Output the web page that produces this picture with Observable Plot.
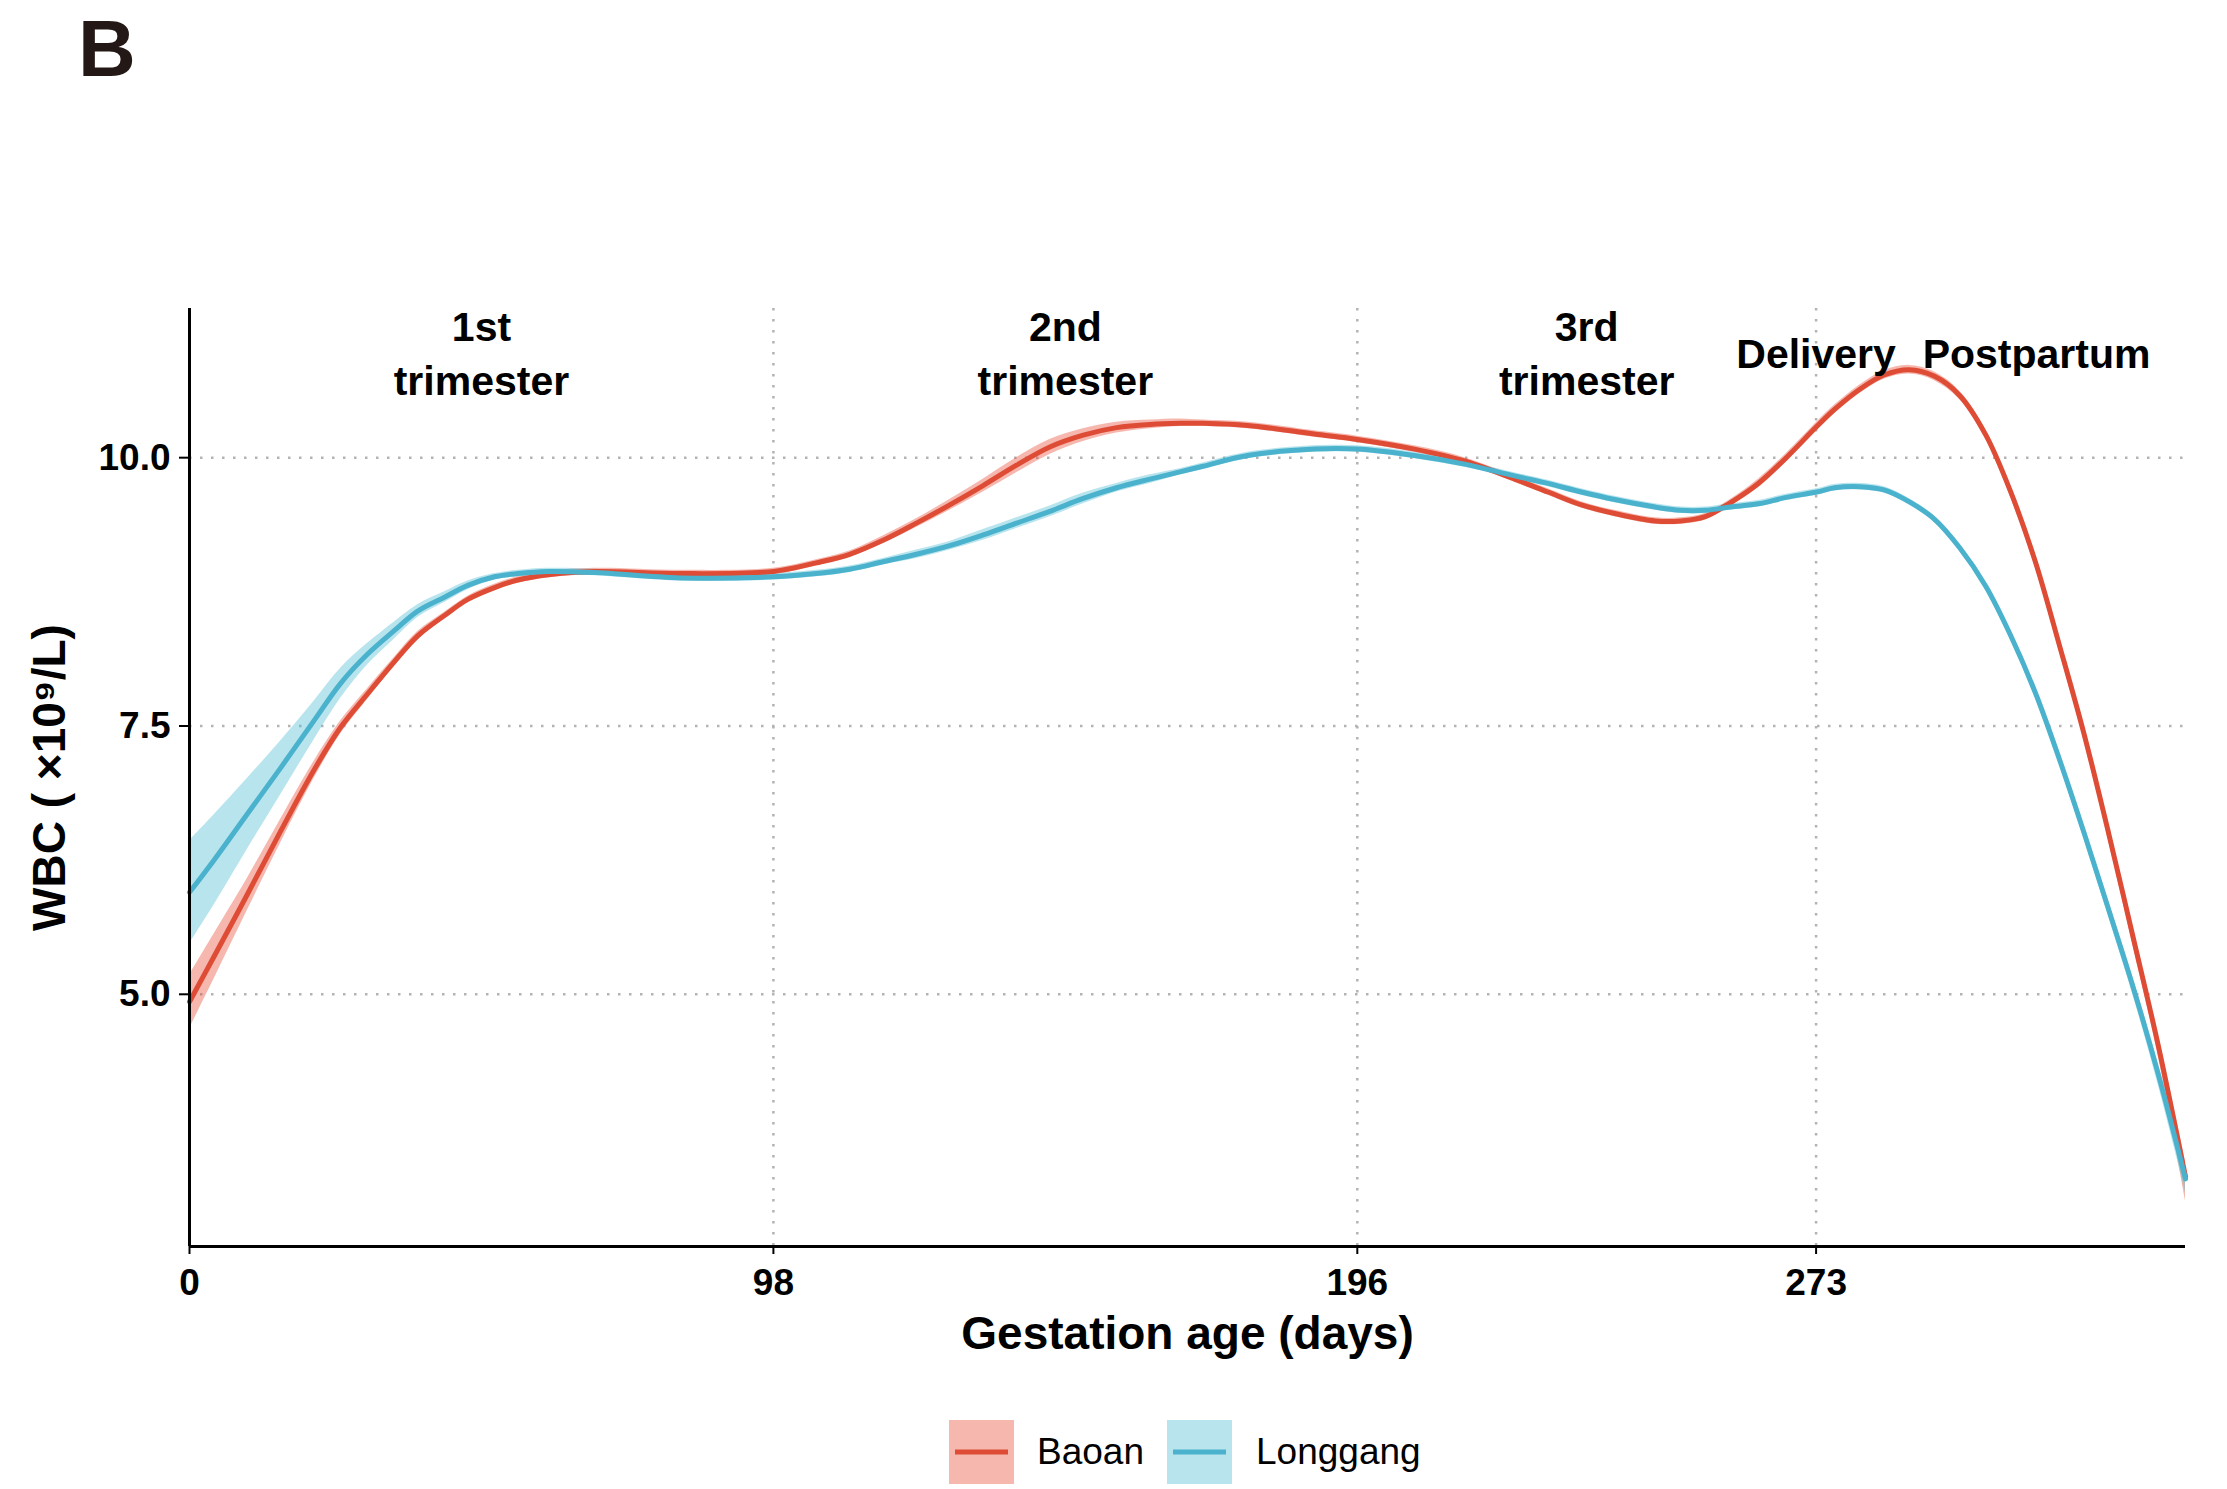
<!DOCTYPE html>
<html>
<head>
<meta charset="utf-8">
<script src="https://cdn.jsdelivr.net/npm/d3@7"></script>
<script src="https://cdn.jsdelivr.net/npm/@observablehq/plot@0.6"></script>
<style>
  html, body { margin: 0; padding: 0; background: white; }
  body { width: 2227px; height: 1489px; position: relative; overflow: hidden; font-family: "Liberation Sans", Arial, Helvetica, sans-serif; }
  #panel { position: absolute; left: 78px; top: 9px; font-weight: bold; font-size: 80px; line-height: 80px; color: #231815; z-index: 5; }
  #chart { position: absolute; left: 0; top: 0; z-index: 1; }
  .key { position: absolute; top: 1420px; width: 65px; height: 64px; z-index: 5; }
  .lab { position: absolute; top: 1420px; height: 64px; line-height: 64px; font-size: 37px; color: black; z-index: 5; }
</style>
</head>
<body>
<div id="chart"></div>
<div id="panel">B</div>
<svg class="key" style="left:949px" width="65" height="64"><rect width="65" height="64" fill="#E64B35" fill-opacity="0.4"/><line x1="6" x2="59" y1="32" y2="32" stroke="#DE4C36" stroke-width="5"/></svg>
<div class="lab" style="left:1037px">Baoan</div>
<svg class="key" style="left:1167px" width="65" height="64"><rect width="65" height="64" fill="#4DBBD5" fill-opacity="0.4"/><line x1="6" x2="59" y1="32" y2="32" stroke="#4AB2CC" stroke-width="5"/></svg>
<div class="lab" style="left:1256px">Longgang</div>
<script>
// ---- data ----
const days = [0,4.1,9.7,15.3,20.9,25.4,29.9,34.4,38.3,42.8,
  46.7,51.2,55.1,60.2,68,82.4,98,105.2,110.8,116.4,
  122,127.6,133.2,138.8,144.4,150,155.6,161.2,166.4,170.1,
  177.6,188.8,196,205.6,214,222.4,228,233.6,239.2,246,
  250.3,254.4,258.6,263.3,268,273.1,276.1,280.4,284.4,288.6,
  292.8,297.1,301.5,305.6,309.8,313.9,318,322.1,326.3,330.4,
  335];

const baoanMean = [4.93,5.35,5.93,6.52,7.09,7.49,7.80,8.10,8.34,8.53,
  8.68,8.79,8.86,8.91,8.94,8.92,8.94,9.02,9.10,9.23,
  9.39,9.56,9.74,9.93,10.10,10.21,10.28,10.31,10.32,10.32,
  10.30,10.22,10.17,10.08,9.97,9.80,9.68,9.56,9.48,9.41,
  9.41,9.45,9.58,9.76,10.00,10.29,10.45,10.64,10.77,10.82,
  10.76,10.58,10.21,9.69,9.03,8.24,7.42,6.50,5.51,4.53,
  3.30];
const baoanLo = [4.68,5.14,5.78,6.41,7.01,7.43,7.75,8.06,8.30,8.50,
  8.65,8.76,8.83,8.88,8.91,8.89,8.91,8.99,9.07,9.20,
  9.35,9.51,9.68,9.86,10.03,10.15,10.23,10.27,10.29,10.29,
  10.27,10.19,10.14,10.05,9.94,9.77,9.65,9.53,9.45,9.38,
  9.38,9.42,9.55,9.72,9.96,10.25,10.41,10.60,10.73,10.78,
  10.72,10.54,10.17,9.64,8.98,8.18,7.36,6.43,5.43,4.43,
  3.08];
const baoanHi = [5.18,5.56,6.08,6.63,7.17,7.55,7.85,8.14,8.38,8.56,
  8.71,8.82,8.89,8.94,8.97,8.95,8.97,9.05,9.13,9.27,
  9.43,9.61,9.80,10.00,10.17,10.27,10.33,10.35,10.36,10.35,
  10.33,10.25,10.20,10.11,10.00,9.83,9.71,9.59,9.51,9.44,
  9.44,9.48,9.61,9.80,10.04,10.33,10.49,10.68,10.81,10.86,
  10.80,10.62,10.25,9.74,9.08,8.30,7.48,6.57,5.59,4.63,
  3.45];

const longgangMean = [5.95,6.25,6.68,7.11,7.55,7.90,8.17,8.39,8.57,8.70,
  8.81,8.89,8.92,8.94,8.93,8.88,8.89,8.92,8.96,9.03,
  9.10,9.18,9.28,9.39,9.50,9.62,9.72,9.80,9.87,9.92,
  10.02,10.08,10.08,10.02,9.94,9.83,9.76,9.68,9.61,9.54,
  9.51,9.51,9.54,9.57,9.63,9.68,9.72,9.73,9.70,9.59,
  9.43,9.16,8.80,8.35,7.81,7.18,6.50,5.79,5.05,4.26,
  3.28];
const longgangLo = [5.47,5.83,6.35,6.86,7.37,7.76,8.07,8.31,8.51,8.65,
  8.77,8.86,8.89,8.91,8.90,8.85,8.86,8.89,8.93,9.00,
  9.06,9.14,9.23,9.34,9.45,9.57,9.68,9.76,9.84,9.89,
  9.99,10.05,10.05,9.99,9.91,9.80,9.73,9.65,9.58,9.51,
  9.48,9.48,9.51,9.54,9.60,9.65,9.69,9.70,9.67,9.56,
  9.40,9.13,8.76,8.31,7.77,7.13,6.44,5.72,4.97,4.16,
  3.16];
const longgangHi = [6.43,6.67,7.01,7.36,7.73,8.04,8.27,8.47,8.63,8.75,
  8.85,8.92,8.95,8.97,8.96,8.91,8.92,8.95,8.99,9.06,
  9.14,9.22,9.33,9.44,9.55,9.67,9.76,9.84,9.90,9.95,
  10.05,10.11,10.11,10.05,9.97,9.86,9.79,9.71,9.64,9.57,
  9.54,9.54,9.57,9.60,9.66,9.71,9.75,9.76,9.73,9.62,
  9.46,9.19,8.84,8.39,7.85,7.23,6.56,5.86,5.13,4.36,
  3.40];

const xTicks = [0, 98, 196, 273];
const xGrid = [98, 196, 273];
const yTicks = [5.0, 7.5, 10.0];
const xDomain = [0, 335];
const yDomain = [2.65, 11.39];

const phaseLabels = ["1st\ntrimester", "2nd\ntrimester", "3rd\ntrimester", "Delivery", "Postpartum"];
const phaseX = [49, 147, 234.5, 273, 310];
const phaseY = [11, 11, 11, 11, 11];

const seriesNames = ["Baoan", "Longgang"];
const lineColors = ["#DE4C36", "#4AB2CC"];
const fillColors = ["#E64B35", "#4DBBD5"];

// ---- build tables ----
const baoan = days.map((d, i) => ({day: d, mean: baoanMean[i], lo: baoanLo[i], hi: baoanHi[i]}));
const longgang = days.map((d, i) => ({day: d, mean: longgangMean[i], lo: longgangLo[i], hi: longgangHi[i]}));

const font = "'Liberation Sans', Arial, Helvetica, sans-serif";
const curve = "catmull-rom";

const chart = Plot.plot({
  width: 2227,
  height: 1400,
  marginTop: 308,
  marginLeft: 189,
  marginRight: 42,
  marginBottom: 154,
  style: {fontFamily: font, background: "white", color: "black", overflow: "visible"},
  x: {domain: xDomain},
  y: {domain: yDomain},
  marks: [
    Plot.gridX(xGrid, {stroke: "#b3b3b3", strokeOpacity: 1, strokeWidth: 2.5, strokeDasharray: "2.5,8.5"}),
    Plot.gridY(yTicks, {stroke: "#b3b3b3", strokeOpacity: 1, strokeWidth: 2.5, strokeDasharray: "2.5,8.5"}),
    Plot.areaY(baoan, {x: "day", y1: "lo", y2: "hi", fill: fillColors[0], fillOpacity: 0.4, curve}),
    Plot.areaY(longgang, {x: "day", y1: "lo", y2: "hi", fill: fillColors[1], fillOpacity: 0.4, curve}),
    Plot.lineY(baoan, {x: "day", y: "mean", stroke: lineColors[0], strokeWidth: 5, curve}),
    Plot.lineY(longgang, {x: "day", y: "mean", stroke: lineColors[1], strokeWidth: 5, curve}),
    Plot.ruleX([xDomain[0]], {stroke: "black", strokeWidth: 3}),
    Plot.ruleY([yDomain[0]], {stroke: "black", strokeWidth: 3}),
    Plot.axisX(xTicks, {tickSize: 8, tickPadding: 14, fontSize: 37, fontWeight: "bold", label: null, strokeWidth: 2, tickFormat: d => String(d)}),
    Plot.axisY(yTicks, {tickSize: 10, tickPadding: 9, fontSize: 37, fontWeight: "bold", label: null, strokeWidth: 2, tickFormat: d => d.toFixed(1)}),
    Plot.axisX([], {label: "Gestation age (days)", labelAnchor: "center", labelOffset: 102, labelArrow: "none", fontSize: 46, fontWeight: "bold", tickSize: 0}),
    Plot.axisY([], {label: "WBC ( ×10⁹/L)", labelAnchor: "center", labelOffset: 157, labelArrow: "none", fontSize: 46, fontWeight: "bold", tickSize: 0}),
    Plot.text(phaseLabels, {x: phaseX, y: phaseY, text: d => d, fontSize: 41, fontWeight: "bold", lineHeight: 1.32, lineAnchor: "middle", fill: "black"})
  ]
});
document.getElementById("chart").appendChild(chart);
</script>
</body>
</html>
